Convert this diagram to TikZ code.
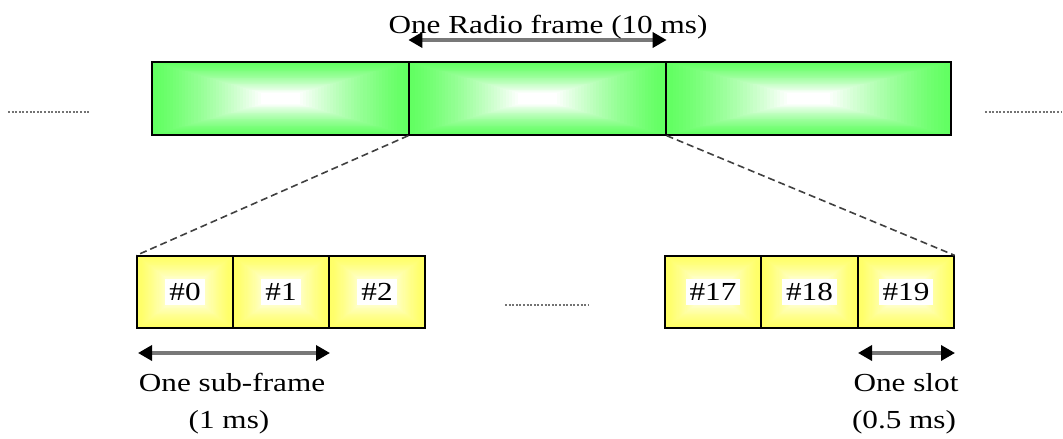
\documentclass[tikz,border=0pt]{standalone}
\usepackage{fontspec}
\setmainfont{Liberation Serif}[FakeStretch=1.2]
\usetikzlibrary{arrows.meta,calc}
\definecolor{framegreen}{RGB}{98,255,98}
\definecolor{slotyellow}{RGB}{255,255,100}
\definecolor{shaftgray}{RGB}{120,120,120}
\tikzset{
  % rectangle filled with a path gradient: colour at the rim, white in the core
  gradbox/.style={rectangle, draw=black, line width=1.3pt, inner sep=0pt,
    path picture={
      \foreach \k in {0,...,36}{
        \pgfmathsetmacro{\s}{1-\k/36*0.85}
        \pgfmathsetmacro{\c}{100*(1-(\k/36)^1.3)}
        \fill[#1!\c!white]
          ($(path picture bounding box.center)!\s!(path picture bounding box.south west)$)
          rectangle
          ($(path picture bounding box.center)!\s!(path picture bounding box.north east)$);
      }
    }},
  framebox/.style={gradbox=framegreen, minimum height=73pt},
  slotbox/.style={gradbox=slotyellow, minimum width=96pt, minimum height=72pt},
  slotlabel/.style={fill=white, inner sep=4pt, font=\fontsize{26}{30}\selectfont},
  span/.style={draw=shaftgray, line width=3.4pt,
    {Triangle[length=14pt,width=15pt,color=black]}-{Triangle[length=14pt,width=15pt,color=black]}},
  zoomline/.style={draw=black!75, line width=1.6pt, dash pattern=on 7pt off 4pt},
  ellipsis/.style={draw=black!55, line width=2.8pt, dash pattern=on 2pt off 1.6pt},
  caption/.style={font=\fontsize{26}{34}\selectfont, inner sep=0pt, anchor=base},
}
\begin{document}
\begin{tikzpicture}[x=1pt,y=-1pt]
  \useasboundingbox (0,0) rectangle (1063,439);

  % radio frames
  \node[framebox, minimum width=257pt] (f1) at (280.5,98.5) {};
  \node[framebox, minimum width=257pt] (f2) at (537.5,98.5) {};
  \node[framebox, minimum width=285pt] (f3) at (808.5,98.5) {};

  % slots of one frame
  \node[slotbox] (s0)  at (185,292)   {};
  \node[slotbox] (s1)  at (281,292)   {};
  \node[slotbox] (s2)  at (377,292)   {};
  \node[slotbox] (s17) at (713,292)   {};
  \node[slotbox] (s18) at (809.5,292) {};
  \node[slotbox] (s19) at (906,292)   {};
  \foreach \n/\t in {s0/0,s1/1,s2/2,s17/17,s18/18,s19/19}
    \node[slotlabel] (l\n) at (\n.center) {\#\t};

  % zoom from the middle frame down to its slots
  \draw[zoomline] (f2.south west) -- (s0.north west);
  \draw[zoomline] (f2.south east) -- (s19.north east);

  % continuation marks
  \coordinate (la) at (8,112);   \coordinate (lb) at (90,112);
  \coordinate (ra) at (985,112); \coordinate (rb) at (1062,112);
  \coordinate (ma) at (505,305); \coordinate (mb) at (588,305);
  \draw[ellipsis] (la) -- (lb);
  \draw[ellipsis] (ra) -- (rb);
  \draw[ellipsis] (ma) -- (mb);

  % radio frame span
  \coordinate (ta) at (f2.south west |- 0,40);
  \coordinate (tb) at (f2.south east |- 0,40);
  \draw[span] (ta) -- (tb);
  \node[caption] (tlabel) at (548,33) {One Radio frame (10 ms)};

  % sub-frame span
  \coordinate (sa) at (138,353);
  \coordinate (sb) at (330,353);
  \draw[span] (sa) -- (sb);
  \node[caption] (sub1) at (232,391) {One sub-frame};
  \node[caption] (sub2) at (229,428) {(1 ms)};

  % slot span
  \coordinate (oa) at (858,353);
  \coordinate (ob) at (955,353);
  \draw[span] (oa) -- (ob);
  \node[caption] (slot1) at (906,391) {One slot};
  \node[caption] (slot2) at (904,428) {(0.5 ms)};
\end{tikzpicture}
\end{document}
